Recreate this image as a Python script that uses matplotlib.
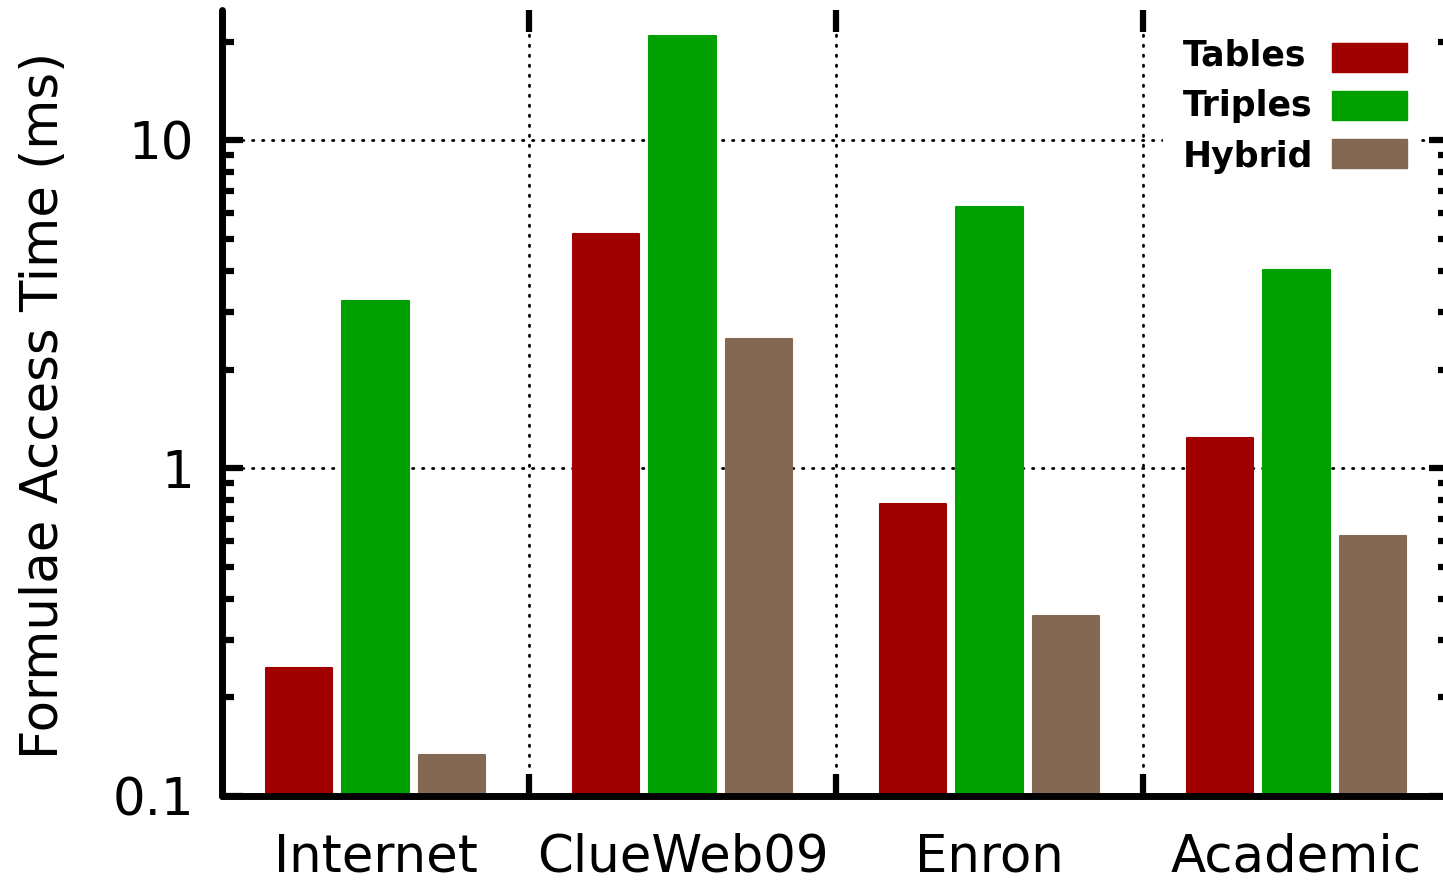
import matplotlib.pyplot as plt
import numpy as np
from matplotlib.patches import Rectangle
from matplotlib.ticker import LogLocator, NullFormatter

categories = ["Internet", "ClueWeb09", "Enron", "Academic"]
series_names = ["Tables", "Triples", "Hybrid"]
tables = [0.245, 5.2, 0.776, 1.24]
triples = [3.23, 20.8, 6.25, 4.02]
hybrid = [0.133, 2.47, 0.354, 0.621]
colors = ["#a00000", "#00a000", "#836953"]

W, H = 1443, 881
fig = plt.figure(figsize=(W / 100, H / 100), dpi=100)
# the right edge of the plot runs slightly past the image, as in the original
ax = fig.add_axes([222 / W, 1 - 796 / H, (1450 - 222) / W, (796 - 10) / H])

x = np.arange(len(categories))
offsets = [-0.25, 0.0, 0.25]
for off, vals, color, name in zip(offsets, [tables, triples, hybrid], colors, series_names):
    ax.bar(x + off, vals, width=0.215, color=color, edgecolor=color, linewidth=1.5,
           joinstyle="round", label=name, zorder=2)

ax.set_yscale("log")
ax.set_ylim(0.1, 25)
ax.set_xlim(-0.5, 3.5)

ax.set_yticks([0.1, 1, 10], labels=["0.1", "1", "10"])
ax.yaxis.set_minor_locator(LogLocator(base=10, subs=np.arange(2, 10)))
ax.yaxis.set_minor_formatter(NullFormatter())
ax.set_xticks([0.5, 1.5, 2.5], labels=[])
ax.set_xticks(x, labels=categories, minor=True)

ax.tick_params(axis="y", which="major", direction="in", length=15, width=4.5,
               left=True, right=True, labelsize=37, pad=20)
ax.tick_params(axis="y", which="minor", direction="in", length=8.5, width=4.5,
               left=True, right=True)
ax.tick_params(axis="x", which="major", direction="in", length=16, width=4.5,
               bottom=True, top=True)
ax.tick_params(axis="x", which="minor", length=0, labelsize=37, pad=26)

for name, spine in ax.spines.items():
    spine.set_linewidth(5)
    spine.set_capstyle("round")
ax.spines["top"].set_visible(False)

ax.set_axisbelow(True)
grid_style = dict(color="black", linewidth=2, linestyle=(0, (0.5, 3.1)),
                  dash_capstyle="round")
ax.grid(True, axis="y", which="major", **grid_style)
ax.grid(True, axis="x", which="major", **grid_style)

fig.text(44 / W, 1 - 405 / H, "Formulae Access Time (ms)", rotation=90,
         ha="center", va="center", fontsize=37)

# key in the top right corner: left-aligned names with colour swatches after them
fig.add_artist(Rectangle((1163 / W, 1 - 182 / H), (1420 - 1163) / W, (182 - 22) / H,
                         transform=fig.transFigure, facecolor="white",
                         edgecolor="none"))
for i, (name, color) in enumerate(zip(series_names, colors)):
    fig.text(1183 / W, 1 - (65 + 51 * i) / H, name, ha="left", va="baseline",
             fontsize=25, fontweight="bold")
    top = 43 + 48 * i
    fig.add_artist(Rectangle((1332 / W, 1 - (top + 29) / H), 75 / W, 29 / H,
                             transform=fig.transFigure, facecolor=color,
                             edgecolor=color, linewidth=1, joinstyle="round"))

fig.savefig("out.png", dpi=100)
